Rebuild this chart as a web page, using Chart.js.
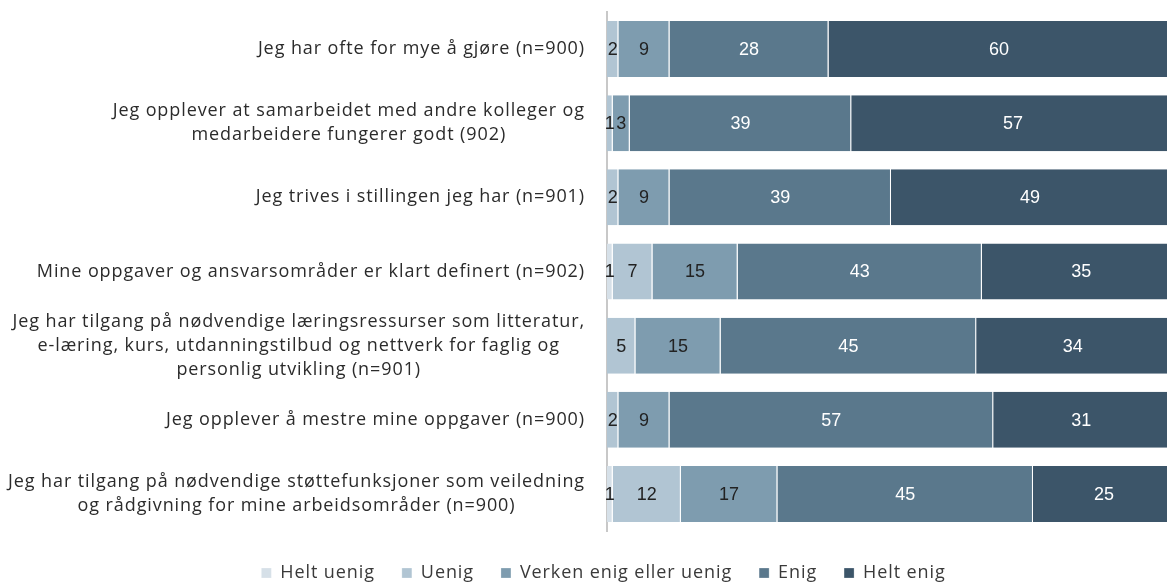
<!DOCTYPE html>
<html>
<head>
<meta charset="utf-8">
<script src="https://cdn.jsdelivr.net/npm/chart.js@4"></script>
<style>
  html, body { margin: 0; padding: 0; background: #fff; }
  #wrap { width: 1168px; height: 582px; }
</style>
</head>
<body>
<div id="wrap"><canvas id="chart"></canvas></div>
<script>
const categories = [
  ['Jeg har ofte for mye å gjøre (n=900)'],
  ['Jeg opplever at samarbeidet med andre kolleger og', 'medarbeidere fungerer godt (902)'],
  ['Jeg trives i stillingen jeg har (n=901)'],
  ['Mine oppgaver og ansvarsområder er klart definert (n=902)'],
  ['Jeg har tilgang på nødvendige læringsressurser som litteratur,', 'e-læring, kurs, utdanningstilbud og nettverk for faglig og', 'personlig utvikling (n=901)'],
  ['Jeg opplever å mestre mine oppgaver (n=900)'],
  ['Jeg har tilgang på nødvendige støttefunksjoner som veiledning', 'og rådgivning for mine arbeidsområder (n=900)']
];
const seriesNames = ['Helt uenig', 'Uenig', 'Verken enig eller uenig', 'Enig', 'Helt enig'];
const heltUenig = [0, 0, 0, 1, 0, 0, 1];
const uenig     = [2, 1, 2, 7, 5, 2, 12];
const verken    = [9, 3, 9, 15, 15, 9, 17];
const enig      = [28, 39, 39, 43, 45, 57, 45];
const heltEnig  = [60, 57, 49, 35, 34, 31, 25];

const colors = ['#d6e0e8', '#b1c5d3', '#7e9caf', '#5a788c', '#3c5569'];
const valueColors = ['#222', '#222', '#222', '#fff', '#fff'];
const LABEL_FONT = '"Open Sans"';
const SPACING = '0.9px';

// wider text spacing for labels and legend (set before layout so the legend measures it)
const textSpacing = {
  id: 'textSpacing',
  beforeUpdate(chart) { chart.ctx.letterSpacing = SPACING; },
  beforeDraw(chart) { chart.ctx.letterSpacing = SPACING; }
};

// category labels: block right-aligned, lines centred within the block
const rowLabels = {
  id: 'rowLabels',
  afterDraw(chart) {
    const ctx = chart.ctx;
    const y = chart.scales.y;
    ctx.save();
    ctx.letterSpacing = SPACING;
    ctx.font = '18px ' + LABEL_FONT;
    ctx.fillStyle = '#2b2b2b';
    ctx.textAlign = 'center';
    ctx.textBaseline = 'middle';
    const right = chart.chartArea.left - 22;
    categories.forEach((lines, i) => {
      const w = Math.max(...lines.map(l => ctx.measureText(l).width));
      const cy = y.getPixelForValue(i);
      lines.forEach((l, k) => {
        ctx.fillText(l, right - w / 2, cy + (k - (lines.length - 1) / 2) * 24);
      });
    });
    ctx.restore();
  }
};

// value labels in the middle of each segment
const valueLabels = {
  id: 'valueLabels',
  afterDatasetsDraw(chart) {
    const ctx = chart.ctx;
    ctx.save();
    ctx.letterSpacing = '0px';
    ctx.font = '18px "Liberation Sans"';
    ctx.textAlign = 'center';
    ctx.textBaseline = 'middle';
    chart.data.datasets.forEach((ds, d) => {
      chart.getDatasetMeta(d).data.forEach((bar, i) => {
        const v = ds.data[i];
        if (!v) return;
        ctx.fillStyle = valueColors[d];
        ctx.fillText(String(v), (bar.x + bar.base) / 2, bar.y + 1);
      });
    });
    ctx.restore();
  }
};

const values = [heltUenig, uenig, verken, enig, heltEnig];

new Chart(document.getElementById('chart'), {
  type: 'bar',
  data: {
    labels: categories,
    datasets: seriesNames.map((name, d) => ({
      label: name,
      data: values[d],
      backgroundColor: colors[d],
      borderColor: '#fff',
      borderWidth: { right: 1 },
      barPercentage: 0.755,
      categoryPercentage: 1
    }))
  },
  options: {
    indexAxis: 'y',
    responsive: true,
    maintainAspectRatio: false,
    animation: false,
    layout: { padding: { top: 12, right: 1, bottom: -10, left: 40 } },
    scales: {
      x: {
        stacked: true, min: 0, max: 98.6,
        ticks: { display: false },
        grid: { display: false },
        border: { display: false },
        afterFit(s) { s.height = 6; }
      },
      y: {
        stacked: true,
        ticks: { display: false },
        grid: { display: false },
        border: { color: '#c8c8c8', width: 2 },
        afterFit(s) { s.width = 567; }
      }
    },
    plugins: {
      tooltip: { enabled: false },
      legend: {
        position: 'bottom',
        labels: {
          boxWidth: 10, boxHeight: 10, padding: 27,
          color: '#3a3a3a',
          font: { size: 18, family: LABEL_FONT }
        }
      }
    }
  },
  plugins: [textSpacing, rowLabels, valueLabels]
});
</script>
</body>
</html>
